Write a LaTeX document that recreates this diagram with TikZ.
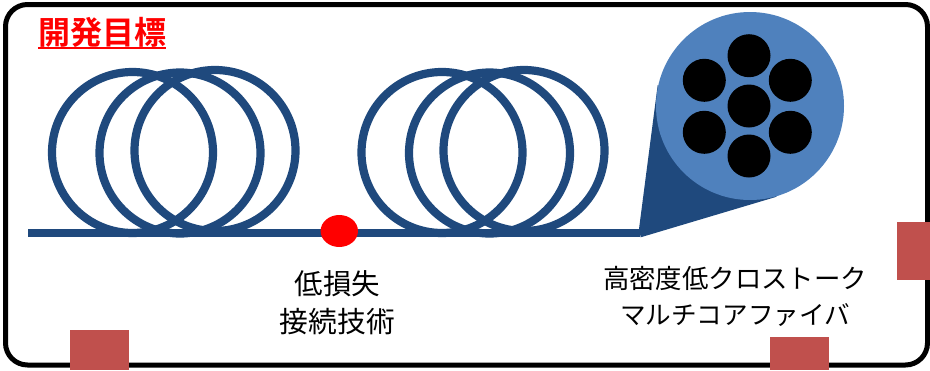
\documentclass[tikz,border=0pt]{standalone}
\usepackage{fontspec}
\usetikzlibrary{shapes.geometric}
\setmainfont{Noto Sans CJK JP}
\newfontfamily\jpbold{Noto Sans CJK JP Bold}
\definecolor{fibre}{HTML}{1F497D}
\definecolor{cladding}{HTML}{4F81BD}
\definecolor{marker}{HTML}{C0504D}
\tikzset{
  loopring/.style={draw=fibre,line width=8.2pt,circle,minimum size=161pt,inner sep=0pt,fill=none},
  corecircle/.style={circle,fill=black,minimum size=43pt,inner sep=0pt},
  caption/.style={align=center,text=black,inner sep=0pt}
}
\begin{document}
\begin{tikzpicture}[x=1pt,y=-1pt]
\useasboundingbox (0,0) rectangle (930,370);
% outer frame
\draw[line width=5pt,rounded corners=22pt] (5.5,4.5) rectangle (927.5,365);
% title
\node[inner sep=0pt,anchor=center,text=red] (title) at (102,32.5) {\fontsize{32}{32}\selectfont\jpbold 開発目標};
\draw[red,line width=1.6pt] (38,48.2) -- (166,48.2);
% first coil
\node[loopring] (a1) at (132.5,152.5) {};
\node[loopring] (a2) at (180,153) {};
\node[loopring] (a3) at (215,150.5) {};
% second coil
\node[loopring] (b1) at (442,152.5) {};
\node[loopring] (b2) at (489.5,153) {};
\node[loopring] (b3) at (524,150.5) {};
% fibre run and fan-out to the cross-section
\coordinate (start) at (28,233);
\coordinate (fan) at (640,233);
\draw[fibre,line width=8.4pt] (start) -- (fan);
\fill[fibre] (657.7,85) -- (639,229) -- (640.7,237.3) -- (776.7,196.7) -- cycle;
% splice point
\node[ellipse,fill=red,minimum width=37.4pt,minimum height=32pt,inner sep=0pt] (splice) at (339.3,231) {};
% cross-section with seven cores
\node[circle,fill=cladding,minimum size=188pt,inner sep=0pt] (clad) at (750,106) {};
\node[corecircle] (c0) at (749,106) {};
\node[corecircle] (c1) at (749,55.7) {};
\node[corecircle] (c2) at (749,156) {};
\node[corecircle] (c3) at (704.3,80.3) {};
\node[corecircle] (c4) at (704.3,132.3) {};
\node[corecircle] (c5) at (790.3,80.3) {};
\node[corecircle] (c6) at (790.3,132.3) {};
% captions
\node[caption] (capa) at (337.5,284) {\fontsize{28.5}{28.5}\selectfont 低損失};
\node[caption] (capb) at (337.5,322) {\fontsize{28.8}{28.8}\selectfont 接続技術};
\node[caption] (capc) at (735,278) {\fontsize{26.4}{26.4}\selectfont 高密度低クロストーク};
\node[caption] (capd) at (735,315) {\fontsize{25.6}{25.6}\selectfont マルチコアファイバ};
% marker squares
\fill[marker] (70,330) rectangle (128.5,370);
\fill[marker] (770,337) rectangle (828.5,370);
\fill[marker] (897,222) rectangle (930,280);
\end{tikzpicture}
\end{document}
